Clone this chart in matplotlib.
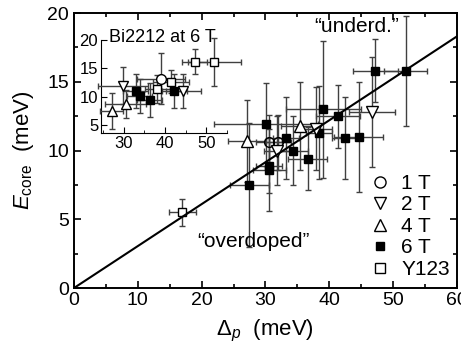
import matplotlib
matplotlib.use('Agg')
import matplotlib.pyplot as plt
from matplotlib.lines import Line2D
from matplotlib.ticker import MultipleLocator

plt.rcParams['font.family'] = ['Liberation Sans', 'DejaVu Sans']
plt.rcParams['mathtext.fontset'] = 'custom'
plt.rcParams['mathtext.rm'] = 'Liberation Sans'
plt.rcParams['mathtext.it'] = 'Liberation Sans:italic'

# ---- main panel data (Delta_p, E_core, x error, y error) ----
t1_x = [30.6, 32.0]
t1_y = [10.6, 10.6]
t1_xe = [2.0, 2.0]
t1_ye = [2.0, 2.0]

t2_x = [46.7, 38.0, 31.8]
t2_y = [12.8, 11.6, 10.0]
t2_xe = [3.6, 2.5, 2.0]
t2_ye = [4.0, 3.0, 2.5]

t4_x = [27.1, 35.4]
t4_y = [10.7, 11.8]
t4_xe = [3.0, 3.0]
t4_ye = [3.0, 3.2]

t6_x = [47.2, 52.0, 39.1, 41.4, 30.1, 33.2, 34.3, 36.6, 38.4, 42.5, 44.6, 30.6, 30.6, 27.5]
t6_y = [15.8, 15.8, 13.0, 12.5, 11.9, 10.9, 10.0, 9.4, 11.3, 10.9, 11.0, 8.9, 8.6, 7.5]
t6_xe = [3.5, 3.4, 5.9, 3.5, 8.2, 2.0, 2.3, 3.0, 2.0, 2.0, 3.9, 2.0, 2.6, 3.1]
t6_ye = [2.3, 4.0, 5.0, 2.3, 3.0, 3.0, 2.5, 2.3, 3.4, 3.0, 4.0, 2.0, 3.0, 4.5]

y123_x = [17.0]
y123_y = [5.5]
y123_xe = [2.1]
y123_ye = [1.0]

slope = 0.305
line_x = [0, 60]

# ---- inset data (Bi2212 at 6 T) ----
i1_x = [39.0]
i1_y = [13.2]
i1_xe = [5.8]
i1_ye = [4.5]

i2_x = [29.9, 44.5]
i2_y = [12.0, 11.0]
i2_xe = [6.0, 4.3]
i2_ye = [3.2, 3.0]

i4_x = [27.1, 30.5]
i4_y = [7.5, 8.7]
i4_xe = [2.8, 5.0]
i4_ye = [3.2, 2.5]

i6_x = [32.9, 33.9, 36.3, 42.3]
i6_y = [11.1, 10.1, 9.5, 11.0]
i6_xe = [3.0, 3.0, 3.0, 3.0]
i6_ye = [3.0, 3.0, 3.0, 3.0]

iy_x = [38.2, 41.4, 47.2, 52.0]
iy_y = [11.4, 12.7, 16.2, 16.2]
iy_xe = [3.0, 4.4, 3.0, 6.5]
iy_ye = [2.5, 2.0, 2.2, 4.2]

ecol = '0.25'

fig = plt.figure(figsize=(4.61, 3.58), dpi=100)
ax = fig.add_axes([0.1605, 0.1955, 0.8305, 0.768])


def eb(a, x, y, xe, ye, marker, ms, mfc, clip=True):
    a.errorbar(x, y, xerr=xe, yerr=ye, fmt=marker, ms=ms, mfc=mfc, mec='k',
               mew=1.0, ecolor=ecol, elinewidth=1.0, capsize=2.5,
               capthick=1.0, clip_on=clip, zorder=3)


ax.plot(line_x, [slope * v for v in line_x], 'k-', lw=1.5, zorder=4)
eb(ax, t6_x, t6_y, t6_xe, t6_ye, 's', 5.5, 'k')
eb(ax, t1_x, t1_y, t1_xe, t1_ye, 'o', 7, 'none')
eb(ax, t2_x, t2_y, t2_xe, t2_ye, 'v', 8.5, 'white')
eb(ax, t4_x, t4_y, t4_xe, t4_ye, '^', 8.5, 'white')
eb(ax, y123_x, y123_y, y123_xe, y123_ye, 's', 6, 'white')

ax.set_xlim(0, 60)
ax.set_ylim(0, 20)
ax.xaxis.set_major_locator(MultipleLocator(10))
ax.xaxis.set_minor_locator(MultipleLocator(5))
ax.yaxis.set_major_locator(MultipleLocator(5))
ax.yaxis.set_minor_locator(MultipleLocator(2.5))
ax.tick_params(which='both', direction='in', top=True, right=True,
               labelsize=14, width=1.2)
ax.tick_params(which='major', length=5)
ax.tick_params(which='minor', length=3)
ax.tick_params(axis='x', pad=3)
for s in ax.spines.values():
    s.set_linewidth(1.4)
ax.set_xlabel(r'$\Delta_p$  (meV)', fontsize=16, labelpad=6)
ax.set_ylabel(r'$E_{\rm core}$  (meV)', fontsize=16, labelpad=8)

ax.text(44.3, 19.0, '\u201cunderd.\u201d', fontsize=15, ha='center', va='center')
ax.text(28.2, 3.4, '\u201coverdoped\u201d', fontsize=15, ha='center', va='center')

handles = [
    Line2D([], [], ls='none', marker='o', ms=8, mfc='none', mec='k'),
    Line2D([], [], ls='none', marker='v', ms=9, mfc='none', mec='k'),
    Line2D([], [], ls='none', marker='^', ms=9, mfc='none', mec='k'),
    Line2D([], [], ls='none', marker='s', ms=6, mfc='k', mec='k'),
    Line2D([], [], ls='none', marker='s', ms=7, mfc='none', mec='k'),
]
labels = ['1 T', '2 T', '4 T', '6 T', 'Y123']
ax.legend(handles, labels, loc='lower left', bbox_to_anchor=(0.735, -0.02),
          frameon=False, fontsize=15, handlelength=1.0, handletextpad=0.5,
          labelspacing=0.12, borderpad=0.2)

# inset
ins = fig.add_axes([0.219, 0.628, 0.273, 0.26])
ins.patch.set_alpha(0)
eb(ins, i6_x, i6_y, i6_xe, i6_ye, 's', 6, 'k', clip=False)
eb(ins, i1_x, i1_y, i1_xe, i1_ye, 'o', 7, 'white', clip=False)
eb(ins, i2_x, i2_y, i2_xe, i2_ye, 'v', 7.5, 'white', clip=False)
eb(ins, i4_x, i4_y, i4_xe, i4_ye, '^', 7.5, 'white', clip=False)
eb(ins, iy_x, iy_y, iy_xe, iy_ye, 's', 5.5, 'white', clip=False)
ins.set_xlim(24.5, 55)
ins.set_ylim(3.6, 20)
ins.spines['top'].set_visible(False)
ins.spines['right'].set_visible(False)
ins.xaxis.set_major_locator(MultipleLocator(10))
ins.xaxis.set_minor_locator(MultipleLocator(5))
ins.yaxis.set_major_locator(MultipleLocator(5))
ins.tick_params(which='both', direction='in', labelsize=12, pad=2)
ins.tick_params(which='major', length=4)
ins.tick_params(which='minor', length=2)
ins.text(0.06, 1.03, 'Bi2212 at 6 T', transform=ins.transAxes, fontsize=13,
         ha='left', va='center')

fig.savefig('out.png', dpi=100)
